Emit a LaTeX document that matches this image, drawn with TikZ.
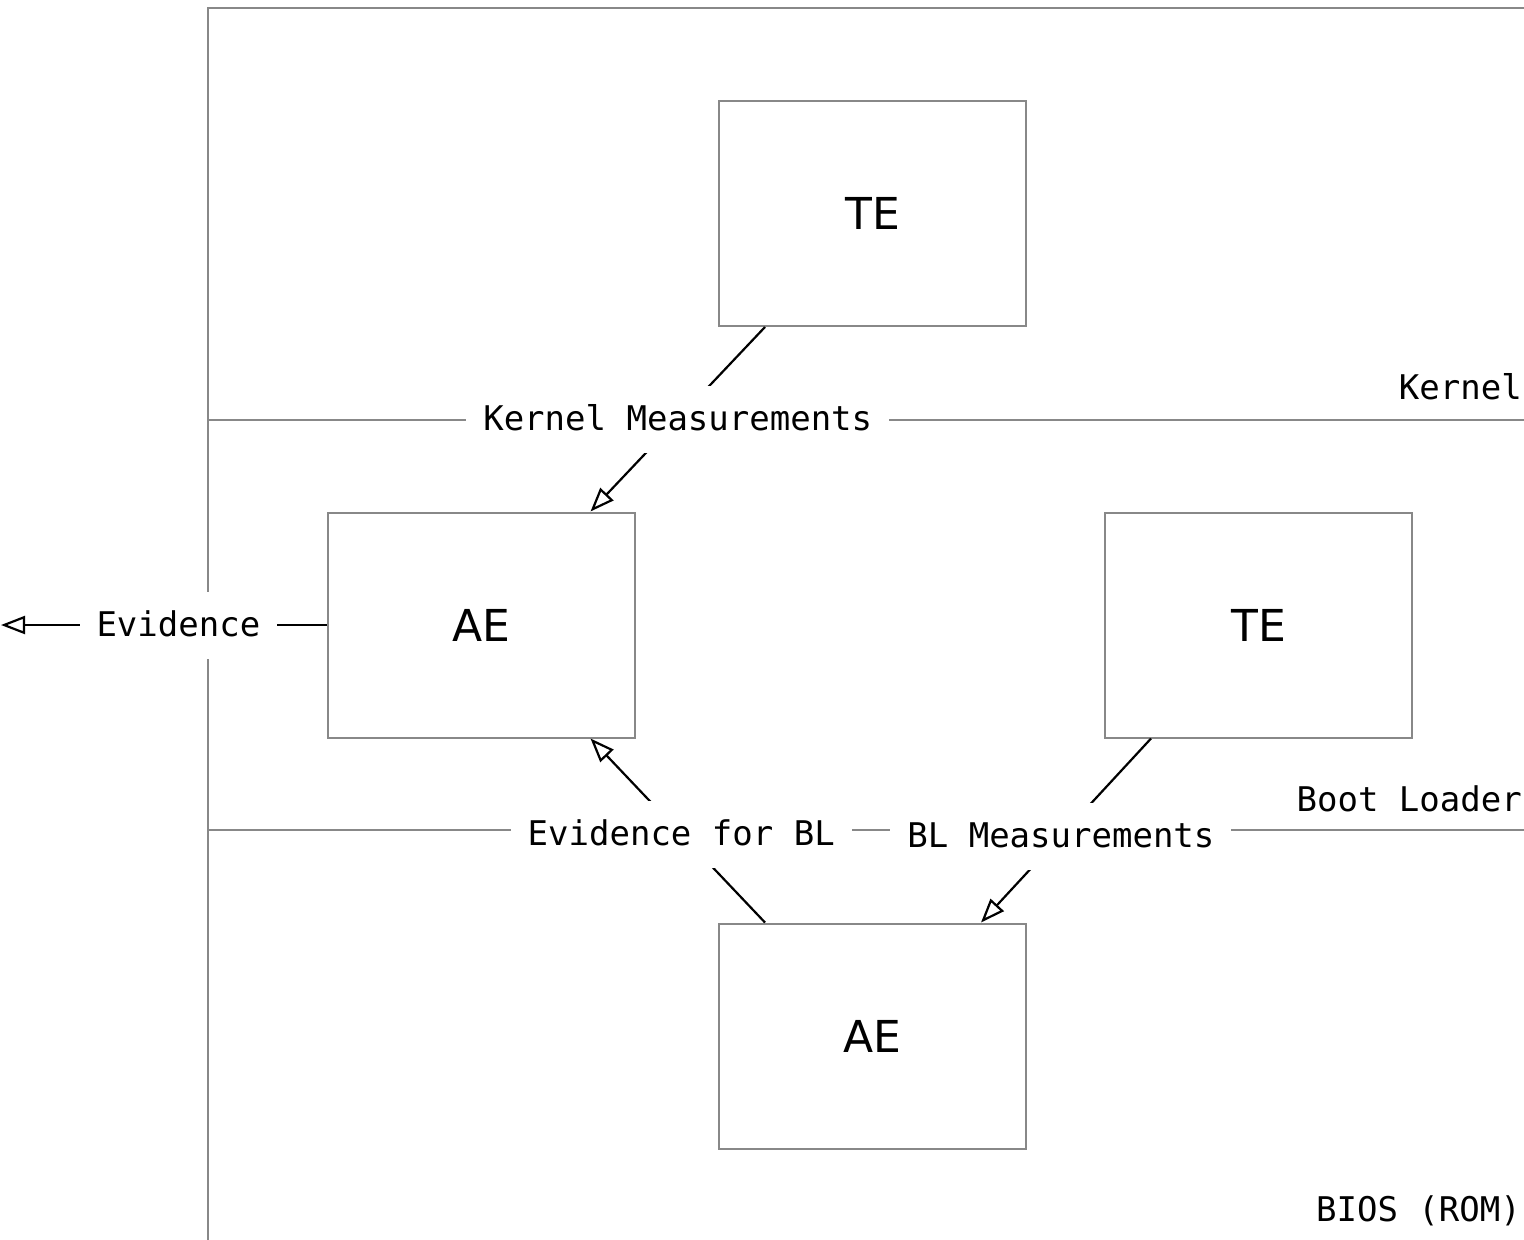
\documentclass[tikz,border=0pt]{standalone}
\usepackage{fontspec}
\setmainfont{DejaVu Sans}
\setsansfont{DejaVu Sans}
\setmonofont{DejaVu Sans Mono}
\usetikzlibrary{arrows.meta}
\definecolor{framegray}{RGB}{136,136,136}
\tikzset{
  layer/.style={draw=framegray, line width=2pt},
  comp/.style={draw=framegray, line width=2pt, minimum width=307pt, minimum height=225pt,
    inner sep=0pt, font=\sffamily\fontsize{44}{50}\selectfont},
  flow/.style={draw=black, line width=2.2pt, -{Triangle[open, length=24pt, width=18pt]}},
  tag/.style={fill=white, text=black, font=\ttfamily\fontsize{34}{40}\selectfont,
    inner xsep=17pt, inner ysep=0pt, text height=45pt, text depth=22pt},
  layername/.style={text=black, font=\ttfamily\fontsize{34}{40}\selectfont, inner sep=0pt, anchor=base east},
}
\begin{document}
\begin{tikzpicture}[x=1pt, y=-1pt]
\useasboundingbox (0,0) rectangle (1524,1240);

% layer boundaries
\draw[layer] (208,1240) -- (208,8) -- (1524,8);
\draw[layer] (208,420) -- (1524,420);
\draw[layer] (208,830) -- (1524,830);

% layer names
\node[layername] (lk) at (1522,399) {Kernel};
\node[layername] (lb) at (1522,811) {Boot Loader};
\node[layername] (lr) at (1521,1221) {BIOS (ROM)};

% components
\node[comp] (te1) at (872.5,213.5) {TE};
\node[comp] (ae1) at (481,625) {AE};
\node[comp] (te2) at (1258.5,625) {TE};
\node[comp] (ae2) at (872.5,1036) {AE};

\coordinate (evout) at (1,625);

% measurement and evidence flows
\draw[flow] ([xshift=47pt]te1.south west) -- node[tag, midway] (km) {Kernel Measurements} ([xshift=-45pt]ae1.north east);
\draw[flow] ([xshift=47pt]ae2.north west) -- node[tag, pos=0.48] (ebl) {Evidence for BL} ([xshift=-45pt]ae1.south east);
\draw[flow] ([xshift=47pt]te2.south west) -- node[tag, pos=0.53] (blm) {BL Measurements} ([xshift=-46pt]ae2.north east);
\draw[flow] (ae1.west) -- node[tag, pos=0.455] (ev) {Evidence} (evout);
\end{tikzpicture}
\end{document}
